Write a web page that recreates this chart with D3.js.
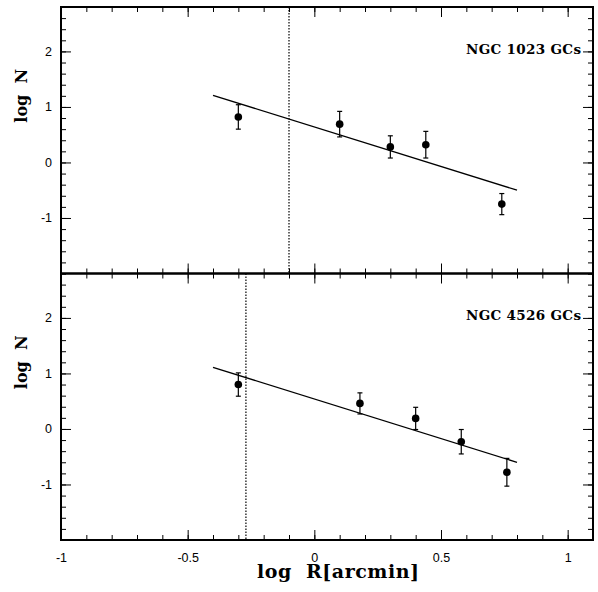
<!DOCTYPE html>
<html>
<head>
<meta charset="utf-8">
<script src="https://cdn.jsdelivr.net/npm/d3@7"></script>
<style>
  html, body { margin: 0; padding: 0; background: #fff; }
  svg { display: block; }
</style>
</head>
<body>
<svg id="chart" width="598" height="592"></svg>
<script>
// Radial surface-density profiles of globular clusters
const panelNames = ["NGC 1023 GCs", "NGC 4526 GCs"];

const logR1023 = [-0.30, 0.10, 0.30, 0.44, 0.74];
const logN1023 = [0.82, 0.69, 0.28, 0.32, -0.75];
const err1023  = [0.22, 0.23, 0.20, 0.24, 0.19];
const fitR1023 = [-0.40, 0.80];
const fitN1023 = [1.21, -0.50];
const limit1023 = -0.10;

const logR4526 = [-0.30, 0.18, 0.40, 0.58, 0.76];
const logN4526 = [0.80, 0.46, 0.19, -0.23, -0.78];
const err4526  = [0.21, 0.19, 0.20, 0.22, 0.25];
const fitR4526 = [-0.40, 0.80];
const fitN4526 = [1.11, -0.60];
const limit4526 = -0.27;

const xMajorTicks = [-1, -0.5, 0, 0.5, 1];
const xTickLabels = ["-1", "-0.5", "0", "0.5", "1"];
const xMinorTicks = d3.range(-10, 12).map(i => i / 10);
const yMajorTicks = [-1, 0, 1, 2];
const yTickLabels = ["-1", "0", "1", "2"];
const yMinorTicks = d3.range(-10, 15).map(i => i / 5);

const xTitle = "log  R[arcmin]";
const yTitle = "log  N";

const svg = d3.select("#chart");
const left = 61, right = 593;
const x = d3.scaleLinear().domain([-1, 1.1]).range([left, right]);

const panels = [
  { name: panelNames[0], r: logR1023, n: logN1023, e: err1023, fr: fitR1023, fn: fitN1023, lim: limit1023, top: 7, bottom: 273.5 },
  { name: panelNames[1], r: logR4526, n: logN4526, e: err4526, fr: fitR4526, fn: fitN4526, lim: limit4526, top: 273.5, bottom: 540 }
];

const serif = "'DejaVu Serif', 'Liberation Serif', serif";
const sans = "'Liberation Sans', Arial, Helvetica, sans-serif";

panels.forEach((p, idx) => {
  const y = d3.scaleLinear().domain([-2, 2.8]).range([p.bottom, p.top]);
  const g = svg.append("g");
  const w = right - left;

  // inward ticks on all four sides
  const tickStyle = sel => {
    sel.select(".domain").remove();
    sel.selectAll(".tick line").attr("stroke", "#000").attr("stroke-width", 1);
  };
  const noLabel = () => "";

  g.append("g").attr("transform", `translate(${left},0)`)
    .call(d3.axisLeft(y).tickValues(yMinorTicks).tickSize(-5).tickFormat(noLabel)).call(tickStyle);
  g.append("g").attr("transform", `translate(${left},0)`)
    .call(d3.axisLeft(y).tickValues(yMajorTicks).tickSize(-10).tickPadding(9)
      .tickFormat((d, i) => yTickLabels[i]))
    .call(tickStyle)
    .call(s => s.selectAll(".tick text").attr("font-family", sans).attr("font-size", 12.5).attr("fill", "#000"));
  g.append("g").attr("transform", `translate(${right},0)`)
    .call(d3.axisRight(y).tickValues(yMinorTicks).tickSize(-5).tickFormat(noLabel)).call(tickStyle);
  g.append("g").attr("transform", `translate(${right},0)`)
    .call(d3.axisRight(y).tickValues(yMajorTicks).tickSize(-10).tickFormat(noLabel)).call(tickStyle);

  g.append("g").attr("transform", `translate(0,${p.top})`)
    .call(d3.axisTop(x).tickValues(xMinorTicks).tickSize(-5).tickFormat(noLabel)).call(tickStyle);
  g.append("g").attr("transform", `translate(0,${p.top})`)
    .call(d3.axisTop(x).tickValues(xMajorTicks).tickSize(-10).tickFormat(noLabel)).call(tickStyle);
  g.append("g").attr("transform", `translate(0,${p.bottom})`)
    .call(d3.axisBottom(x).tickValues(xMinorTicks).tickSize(-5).tickFormat(noLabel)).call(tickStyle);
  g.append("g").attr("transform", `translate(0,${p.bottom})`)
    .call(d3.axisBottom(x).tickValues(xMajorTicks).tickSize(-10).tickPadding(13)
      .tickFormat((d, i) => idx === panels.length - 1 ? xTickLabels[i] : ""))
    .call(tickStyle)
    .call(s => s.selectAll(".tick text").attr("font-family", sans).attr("font-size", 12.5).attr("fill", "#000"));

  // frame
  g.append("rect").attr("x", left).attr("y", p.top).attr("width", w).attr("height", p.bottom - p.top)
    .attr("fill", "none").attr("stroke", "#000").attr("stroke-width", 2);

  // completeness limit
  g.append("line").attr("x1", x(p.lim)).attr("x2", x(p.lim)).attr("y1", p.top).attr("y2", p.bottom)
    .attr("stroke", "#000").attr("stroke-width", 1.2).attr("stroke-dasharray", "1.5,1.5");

  // power-law fit
  g.append("path")
    .datum(p.fr.map((r, i) => [r, p.fn[i]]))
    .attr("d", d3.line().x(d => x(d[0])).y(d => y(d[1])))
    .attr("fill", "none").attr("stroke", "#000").attr("stroke-width", 1.3);

  // error bars
  const pts = p.r.map((r, i) => ({ r, n: p.n[i], e: p.e[i] }));
  const eb = g.append("g").selectAll("g").data(pts).join("g").attr("stroke", "#000").attr("stroke-width", 1.2);
  eb.append("line").attr("x1", d => x(d.r)).attr("x2", d => x(d.r))
    .attr("y1", d => y(d.n + d.e)).attr("y2", d => y(d.n - d.e));
  eb.append("line").attr("x1", d => x(d.r) - 2.5).attr("x2", d => x(d.r) + 2.5)
    .attr("y1", d => y(d.n + d.e)).attr("y2", d => y(d.n + d.e));
  eb.append("line").attr("x1", d => x(d.r) - 2.5).attr("x2", d => x(d.r) + 2.5)
    .attr("y1", d => y(d.n - d.e)).attr("y2", d => y(d.n - d.e));

  g.append("g").selectAll("circle").data(pts).join("circle")
    .attr("cx", d => x(d.r)).attr("cy", d => y(d.n)).attr("r", 3.8).attr("fill", "#000");

  // panel label
  g.append("text").attr("x", 581).attr("y", y(2) + 2.5)
    .attr("text-anchor", "end").attr("font-family", serif).attr("font-weight", "bold")
    .attr("font-size", 13.5).attr("textLength", 115).attr("lengthAdjust", "spacing")
    .attr("xml:space", "preserve").text(p.name);

  // y title
  g.append("text")
    .attr("transform", `translate(27,${y(1.2)}) rotate(-90)`)
    .attr("text-anchor", "middle").attr("font-family", serif).attr("font-weight", "bold")
    .attr("font-size", 16).attr("xml:space", "preserve").text(yTitle);
});

svg.append("text").attr("x", 338).attr("y", 578)
  .attr("text-anchor", "middle").attr("font-family", serif).attr("font-weight", "bold")
  .attr("font-size", 19).attr("textLength", 162).attr("lengthAdjust", "spacing")
  .attr("xml:space", "preserve").text(xTitle);
</script>
</body>
</html>
